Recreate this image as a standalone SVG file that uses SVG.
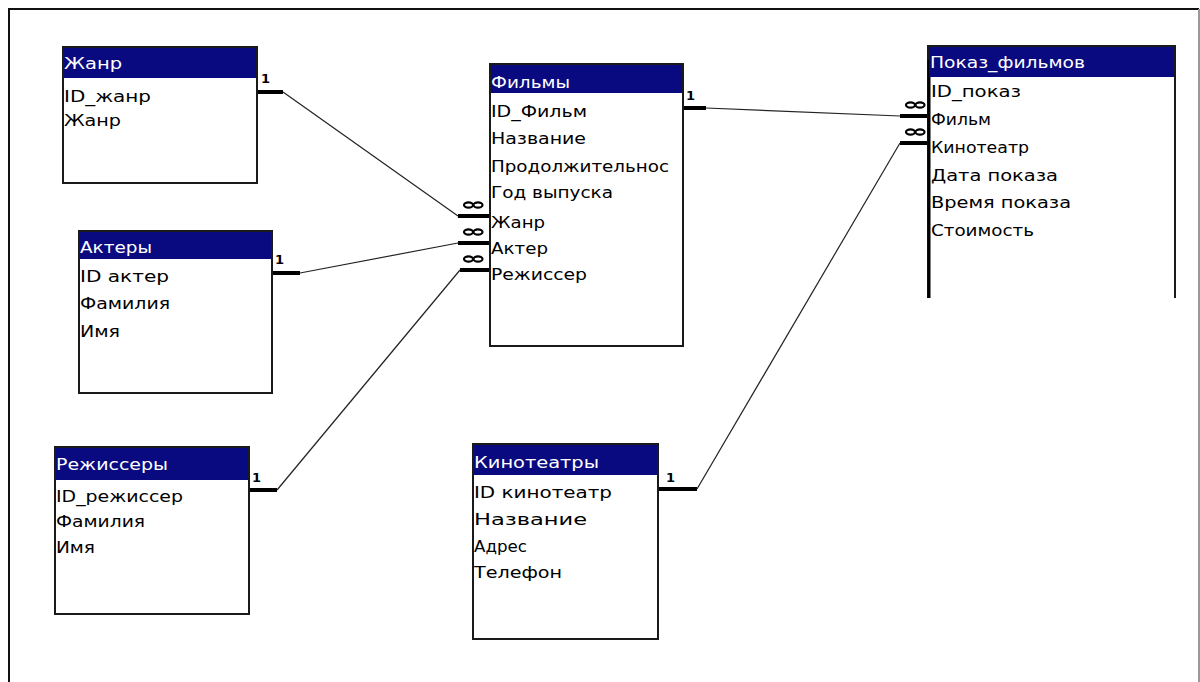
<svg xmlns="http://www.w3.org/2000/svg" width="1200" height="682" viewBox="0 0 1200 682">
<style>
.box{fill:#fff;stroke:#1a1a1a;stroke-width:2}
.hdr{fill:#0a0a80}
.ht{font-family:"DejaVu Sans",sans-serif;font-size:16px;fill:#fff}
.rt{font-family:"DejaVu Sans",sans-serif;font-size:16px;fill:#000}
.one{font-family:"DejaVu Sans",sans-serif;font-size:13px;font-weight:bold;fill:#000}
.thin{fill:none;stroke:#222;stroke-width:1.2}
.thick{fill:none;stroke:#000;stroke-width:4}
.inf{fill:none;stroke:#000;stroke-width:2.2}
</style>
<defs>
<g id="oo"><ellipse class="inf" cx="4.5" cy="0" rx="4.5" ry="2.6"/><ellipse class="inf" cx="14" cy="0" rx="4.5" ry="2.6"/></g>
</defs>
<rect width="1200" height="682" fill="#fff"/>
<path d="M9,682 V9 H1199" fill="none" stroke="#111" stroke-width="2"/>
<path d="M1199,9 V682" fill="none" stroke="#999" stroke-width="2"/>

<g id="connectors">
  <!-- Жанр -> Фильмы.Жанр -->
  <path class="thick" d="M257,92 H283"/>
  <text class="one" x="261" y="83">1</text>
  <path class="thin" d="M283,92 L458,216"/>
  <path class="thick" d="M458,216 H490"/>
  <use href="#oo" x="464" y="205"/>
  <!-- Актеры -> Фильмы.Актер -->
  <path class="thick" d="M272,273 H300"/>
  <text class="one" x="275" y="264">1</text>
  <path class="thin" d="M300,273 L458,243"/>
  <path class="thick" d="M458,243 H490"/>
  <use href="#oo" x="464" y="232"/>
  <!-- Режиссеры -> Фильмы.Режиссер -->
  <path class="thick" d="M249,490 H277"/>
  <text class="one" x="252" y="482">1</text>
  <path class="thin" d="M277,490 L460,270"/>
  <path class="thick" d="M460,270 H490"/>
  <use href="#oo" x="464" y="259"/>
  <!-- Фильмы -> Показ_фильмов.Фильм -->
  <path class="thick" d="M683,108 H706"/>
  <text class="one" x="686" y="100">1</text>
  <path class="thin" d="M706,108 L900,116"/>
  <path class="thick" d="M900,116 H928"/>
  <use href="#oo" x="906" y="105"/>
  <!-- Кинотеатры -> Показ_фильмов.Кинотеатр -->
  <path class="thick" d="M658,489 H697"/>
  <text class="one" x="666" y="482">1</text>
  <path class="thin" d="M697,489 L900,143"/>
  <path class="thick" d="M900,143 H928"/>
  <use href="#oo" x="906" y="132"/>
</g>

<g id="zhanr">
  <rect class="box" x="63" y="47" width="194" height="136"/>
  <rect class="hdr" x="64" y="48" width="192" height="30"/>
  <text class="ht" x="64" y="69" textLength="58" lengthAdjust="spacingAndGlyphs">Жанр</text>
  <text class="rt" x="64" y="102" textLength="87" lengthAdjust="spacingAndGlyphs">ID_жанр</text>
  <text class="rt" x="64" y="126" textLength="57" lengthAdjust="spacingAndGlyphs">Жанр</text>
</g>

<g id="aktery">
  <rect class="box" x="79" y="231" width="193" height="162"/>
  <rect class="hdr" x="80" y="232" width="191" height="27"/>
  <text class="ht" x="80" y="253" textLength="72" lengthAdjust="spacingAndGlyphs">Актеры</text>
  <text class="rt" x="80" y="282" textLength="89" lengthAdjust="spacingAndGlyphs">ID  актер</text>
  <text class="rt" x="80" y="309" textLength="90" lengthAdjust="spacingAndGlyphs">Фамилия</text>
  <text class="rt" x="80" y="337" textLength="40" lengthAdjust="spacingAndGlyphs">Имя</text>
</g>

<g id="rezhissery">
  <rect class="box" x="55" y="447" width="194" height="167"/>
  <rect class="hdr" x="56" y="448" width="192" height="32"/>
  <text class="ht" x="56" y="470" textLength="112" lengthAdjust="spacingAndGlyphs">Режиссеры</text>
  <text class="rt" x="56" y="502" textLength="127" lengthAdjust="spacingAndGlyphs">ID_режиссер</text>
  <text class="rt" x="56" y="527" textLength="89" lengthAdjust="spacingAndGlyphs">Фамилия</text>
  <text class="rt" x="56" y="553" textLength="39" lengthAdjust="spacingAndGlyphs">Имя</text>
</g>

<g id="filmy">
  <rect class="box" x="490" y="64" width="193" height="282"/>
  <rect class="hdr" x="491" y="65" width="191" height="28"/>
  <text class="ht" x="491" y="88" textLength="79" lengthAdjust="spacingAndGlyphs">Фильмы</text>
  <text class="rt" x="491" y="117" textLength="96" lengthAdjust="spacingAndGlyphs">ID_Фильм</text>
  <text class="rt" x="491" y="144" textLength="95" lengthAdjust="spacingAndGlyphs">Название</text>
  <text class="rt" x="491" y="172" textLength="178" lengthAdjust="spacingAndGlyphs">Продолжительнос</text>
  <text class="rt" x="491" y="198" textLength="122" lengthAdjust="spacingAndGlyphs">Год выпуска</text>
  <text class="rt" x="491" y="228" textLength="54" lengthAdjust="spacingAndGlyphs">Жанр</text>
  <text class="rt" x="491" y="254" textLength="57" lengthAdjust="spacingAndGlyphs">Актер</text>
  <text class="rt" x="491" y="280" textLength="96" lengthAdjust="spacingAndGlyphs">Режиссер</text>
</g>

<g id="pokaz_filmov">
  <rect x="928" y="46" width="247" height="252" fill="#fff"/>
  <path d="M928,298 V46 H1175 V298" fill="none" stroke="#1a1a1a" stroke-width="2"/>
  <path d="M929,60 V298" fill="none" stroke="#000" stroke-width="3"/>
  <rect class="hdr" x="929" y="47" width="245" height="30"/>
  <text class="ht" x="930" y="68" textLength="155" lengthAdjust="spacingAndGlyphs">Показ_фильмов</text>
  <text class="rt" x="931" y="97" textLength="90" lengthAdjust="spacingAndGlyphs">ID_показ</text>
  <text class="rt" x="931" y="125" textLength="60" lengthAdjust="spacingAndGlyphs">Фильм</text>
  <text class="rt" x="931" y="153" textLength="98" lengthAdjust="spacingAndGlyphs">Кинотеатр</text>
  <text class="rt" x="931" y="181" textLength="127" lengthAdjust="spacingAndGlyphs">Дата  показа</text>
  <text class="rt" x="931" y="208" textLength="140" lengthAdjust="spacingAndGlyphs">Время  показа</text>
  <text class="rt" x="931" y="236" textLength="103" lengthAdjust="spacingAndGlyphs">Стоимость</text>
</g>

<g id="kinoteatry">
  <rect class="box" x="473" y="444" width="185" height="195"/>
  <rect class="hdr" x="474" y="445" width="183" height="30"/>
  <text class="ht" x="474" y="468" textLength="125" lengthAdjust="spacingAndGlyphs">Кинотеатры</text>
  <text class="rt" x="474" y="498" textLength="138" lengthAdjust="spacingAndGlyphs">ID  кинотеатр</text>
  <text class="rt" x="474" y="525" textLength="113" lengthAdjust="spacingAndGlyphs">Название</text>
  <text class="rt" x="474" y="552" textLength="53" lengthAdjust="spacingAndGlyphs">Адрес</text>
  <text class="rt" x="474" y="578" textLength="88" lengthAdjust="spacingAndGlyphs">Телефон</text>
</g>
</svg>
